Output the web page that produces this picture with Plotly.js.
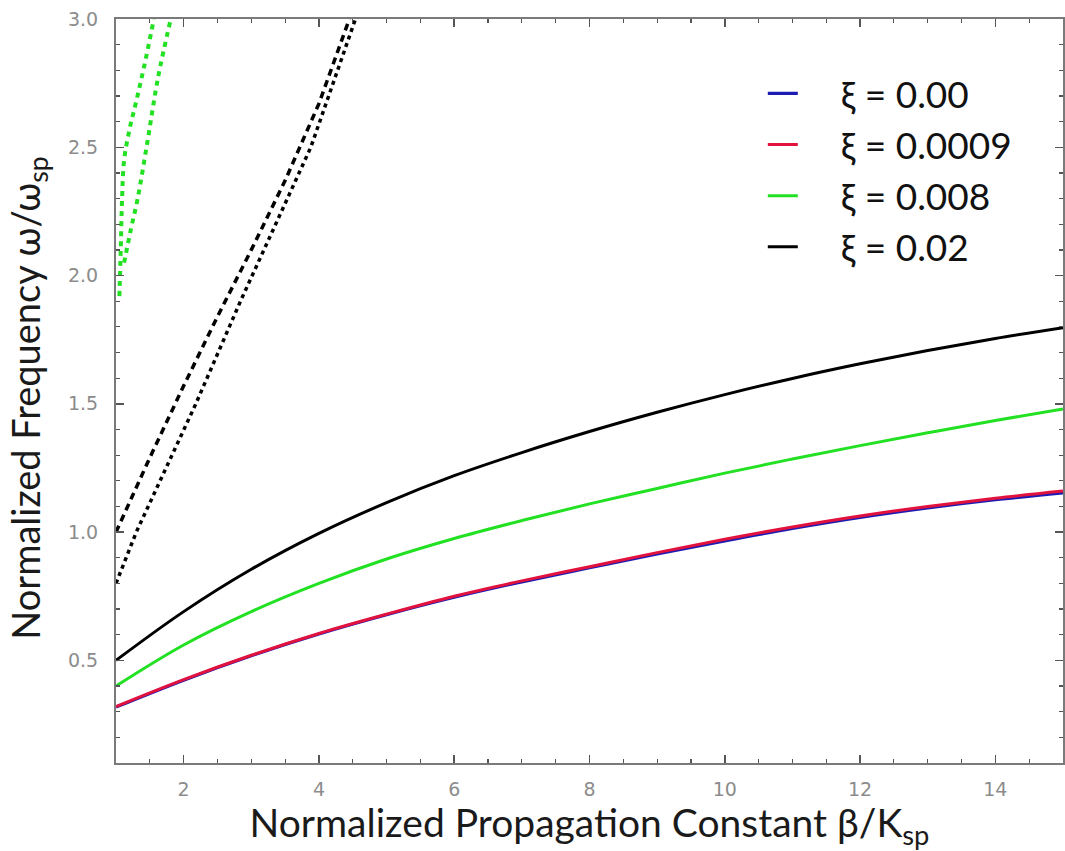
<!DOCTYPE html>
<html>
<head>
<meta charset="utf-8">
<script src="https://cdn.plot.ly/plotly-3.0.1.min.js"></script>
<style>
  html, body { margin: 0; padding: 0; background: #ffffff; }
  #chart { width: 1065px; height: 851px; }
</style>
</head>
<body>
<div id="chart"></div>
<script>
// ---- Data ----
const beta = [1, 2, 3, 4, 5, 6, 7, 8, 9, 10, 11, 12, 13, 14, 15];

// Solid (lower) branches
const omegaXi000   = [0.318, 0.423, 0.518, 0.603, 0.678, 0.746, 0.806, 0.861, 0.915, 0.966, 1.014, 1.057, 1.094, 1.126, 1.153];
const omegaXi00009 = [0.32, 0.425, 0.52, 0.605, 0.68, 0.75, 0.81, 0.865, 0.92, 0.972, 1.02, 1.063, 1.10, 1.132, 1.16];
const omegaXi0008  = [0.40, 0.56, 0.69, 0.80, 0.895, 0.975, 1.045, 1.11, 1.17, 1.23, 1.285, 1.337, 1.387, 1.435, 1.48];
const omegaXi002   = [0.50, 0.69, 0.855, 0.995, 1.115, 1.22, 1.31, 1.392, 1.467, 1.536, 1.599, 1.656, 1.708, 1.755, 1.797];

// Upper (dashed / dotted) branches, xi = 0.008
const greenUpperAX = [1.05, 1.07, 1.09, 1.12, 1.20, 1.30, 1.42, 1.56];
const greenUpperAY = [1.92, 2.10, 2.30, 2.45, 2.57, 2.68, 2.82, 3.00];
const greenUpperBX = [1.12, 1.22, 1.32, 1.47, 1.62, 1.81];
const greenUpperBY = [2.05, 2.18, 2.30, 2.53, 2.77, 3.00];

// Upper (dashed / dotted) branches, xi = 0.02
const blackUpperAX = [1.0, 1.5, 2.0, 2.5, 3.0, 3.5, 4.0, 4.45];
const blackUpperAY = [1.0, 1.29, 1.57, 1.84, 2.10, 2.37, 2.67, 3.00];
const blackUpperBX = [1.0, 1.3, 2.18, 2.84, 3.88, 4.54];
const blackUpperBY = [0.80, 1.00, 1.50, 1.90, 2.50, 3.00];

const seriesNames = ['ξ = 0.00', 'ξ = 0.0009', 'ξ = 0.008', 'ξ = 0.02'];
const xTickVals = [2, 4, 6, 8, 10, 12, 14];
const yTickVals = [0.5, 1.0, 1.5, 2.0, 2.5, 3.0];

// ---- Styles ----
const cBlue = '#1c1cb4', cRed = '#e2123e', cGreen = '#22e022', cBlack = '#000000';
const pad = '\u00a0\u00a0\u00a0\u00a0';

const traces = [
  {x: beta, y: omegaXi000, name: pad + seriesNames[0], mode: 'lines', line: {color: cBlue, width: 3.2, shape: 'spline', smoothing: 1}},
  {x: beta, y: omegaXi00009, name: pad + seriesNames[1], mode: 'lines', line: {color: cRed, width: 3, shape: 'spline', smoothing: 1}},
  {x: beta, y: omegaXi0008, name: pad + seriesNames[2], mode: 'lines', line: {color: cGreen, width: 3, shape: 'spline', smoothing: 1}},
  {x: beta, y: omegaXi002, name: pad + seriesNames[3], mode: 'lines', line: {color: cBlack, width: 3, shape: 'spline', smoothing: 1}},
  {x: greenUpperAX, y: greenUpperAY, mode: 'lines', showlegend: false, line: {color: cGreen, width: 4, dash: '5px,5px', shape: 'spline'}},
  {x: greenUpperBX, y: greenUpperBY, mode: 'lines', showlegend: false, line: {color: cGreen, width: 4, dash: '5px,5px', shape: 'spline'}},
  {x: blackUpperAX, y: blackUpperAY, mode: 'lines', showlegend: false, line: {color: cBlack, width: 3.5, dash: '7px,5px'}},
  {x: blackUpperBX, y: blackUpperBY, mode: 'lines', showlegend: false, line: {color: cBlack, width: 3.5, dash: '4px,4px'}}
];

const axisCommon = {
  showgrid: false,
  zeroline: false,
  showline: true,
  linecolor: '#7a7a7a',
  linewidth: 2,
  mirror: 'ticks',
  ticks: 'inside',
  ticklen: 8,
  tickwidth: 1.5,
  tickcolor: '#555555',
  tickfont: {family: 'DejaVu Sans', size: 19, color: '#8c8c8c'},
  automargin: false
};

const layout = {
  width: 1065,
  height: 851,
  paper_bgcolor: '#ffffff',
  plot_bgcolor: '#ffffff',
  margin: {l: 116, r: 2, t: 19, b: 88},
  showlegend: true,
  legend: {
    x: 0.683, y: 0.941, xanchor: 'left', yanchor: 'top',
    bgcolor: 'rgba(255,255,255,0)',
    font: {family: 'Lato', size: 37, color: '#111111'},
    traceorder: 'normal'
  },
  xaxis: Object.assign({}, axisCommon, {
    range: [1, 15],
    tickvals: xTickVals,
    ticklabelstandoff: 8,
    minor: {dtick: 0.5, ticks: 'inside', ticklen: 4, tickcolor: '#555555', tickwidth: 1.2},
    title: {text: 'Normalized Propagation Constant β/K<sub>sp</sub>', font: {family: 'Lato', size: 39, color: '#1a1a1a'}, standoff: 13}
  }),
  yaxis: Object.assign({}, axisCommon, {
    range: [0.1, 3.0],
    tickvals: yTickVals,
    tickformat: '.1f',
    ticklabelstandoff: 12
  }),
  annotations: [{
    text: 'Normalized Frequency ω/ω<sub>sp</sub>',
    textangle: -90,
    xref: 'paper', yref: 'paper',
    x: -0.093, y: 0.491,
    xanchor: 'center', yanchor: 'middle',
    showarrow: false,
    font: {family: 'Lato', size: 38, color: '#1a1a1a'}
  }]
};
layout.yaxis.minor = {dtick: 0.1, ticks: 'inside', ticklen: 4, tickcolor: '#555555', tickwidth: 1.2};

Plotly.newPlot('chart', traces, layout, {displayModeBar: false, staticPlot: true});
</script>
</body>
</html>
